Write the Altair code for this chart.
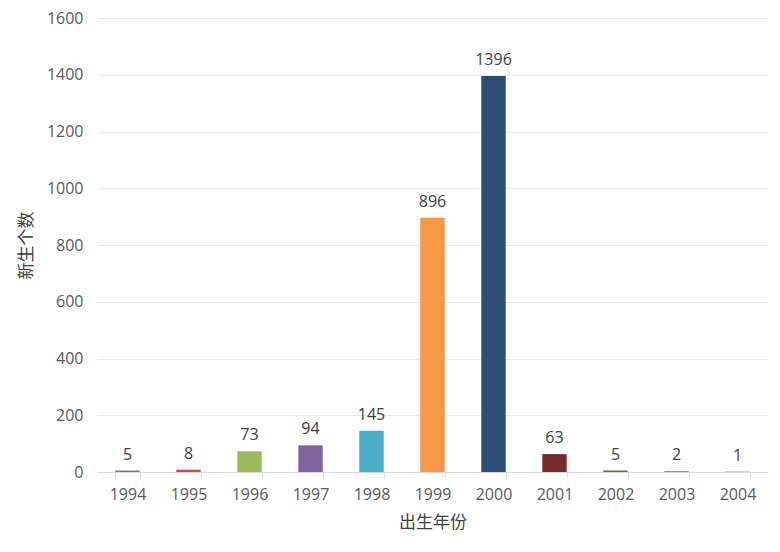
import altair as alt
import pandas as pd

years = ["1994", "1995", "1996", "1997", "1998", "1999", "2000", "2001", "2002", "2003", "2004"]
counts = [5, 8, 73, 94, 145, 896, 1396, 63, 5, 2, 1]
colors = ["#4F81BD", "#C0504D", "#9BBB59", "#8064A2", "#4BACC6", "#F79646",
          "#2C4D75", "#772C2A", "#5F7530", "#4D3B62", "#276A7C"]

df = pd.DataFrame({"year": years, "count": counts})

num_font = "Open Sans"
cjk_font = "Noto Sans CJK SC"

x = alt.X("year:N", sort=years, title="出生年份",
          scale=alt.Scale(paddingInner=0.6, paddingOuter=0.3),
          axis=alt.Axis(labelAngle=0, labelFont=num_font, labelFontSize=16, labelColor="#595959",
                        labelPadding=9, tickBand="extent", tickSize=5, tickColor="#D9D9D9",
                        domainColor="#D9D9D9", titleFont=cjk_font, titleFontSize=17,
                        titleFontWeight="normal", titleColor="#404040", titlePadding=12))

bars = alt.Chart(df).mark_bar().encode(
    x=x,
    y=alt.Y("count:Q", title="新生个数",
            scale=alt.Scale(domain=[0, 1600], nice=False),
            axis=alt.Axis(values=list(range(0, 1601, 200)), format="d", labelFont=num_font,
                          labelFontSize=16, labelColor="#595959", labelPadding=14, ticks=False,
                          domain=False, gridColor="#EAEAEA", titleFont=cjk_font, titleFontSize=17,
                          titleFontWeight="normal", titleColor="#404040", titlePadding=11)),
    color=alt.Color("year:N", sort=years, scale=alt.Scale(domain=years, range=colors), legend=None),
)

labels = alt.Chart(df).mark_text(baseline="bottom", dy=-8, font=num_font, fontSize=16,
                                 color="#404040").encode(
    x=alt.X("year:N", sort=years),
    y="count:Q",
    text="count:Q",
)

chart = (bars + labels).properties(
    width=671, height=454,
    autosize=alt.AutoSizeParams(type="none"),
    padding={"left": 97, "top": 18, "right": 12, "bottom": 80},
    background="white",
).configure_view(stroke=None)

chart.save("out.html", embed_options={"renderer": "svg", "actions": False})
